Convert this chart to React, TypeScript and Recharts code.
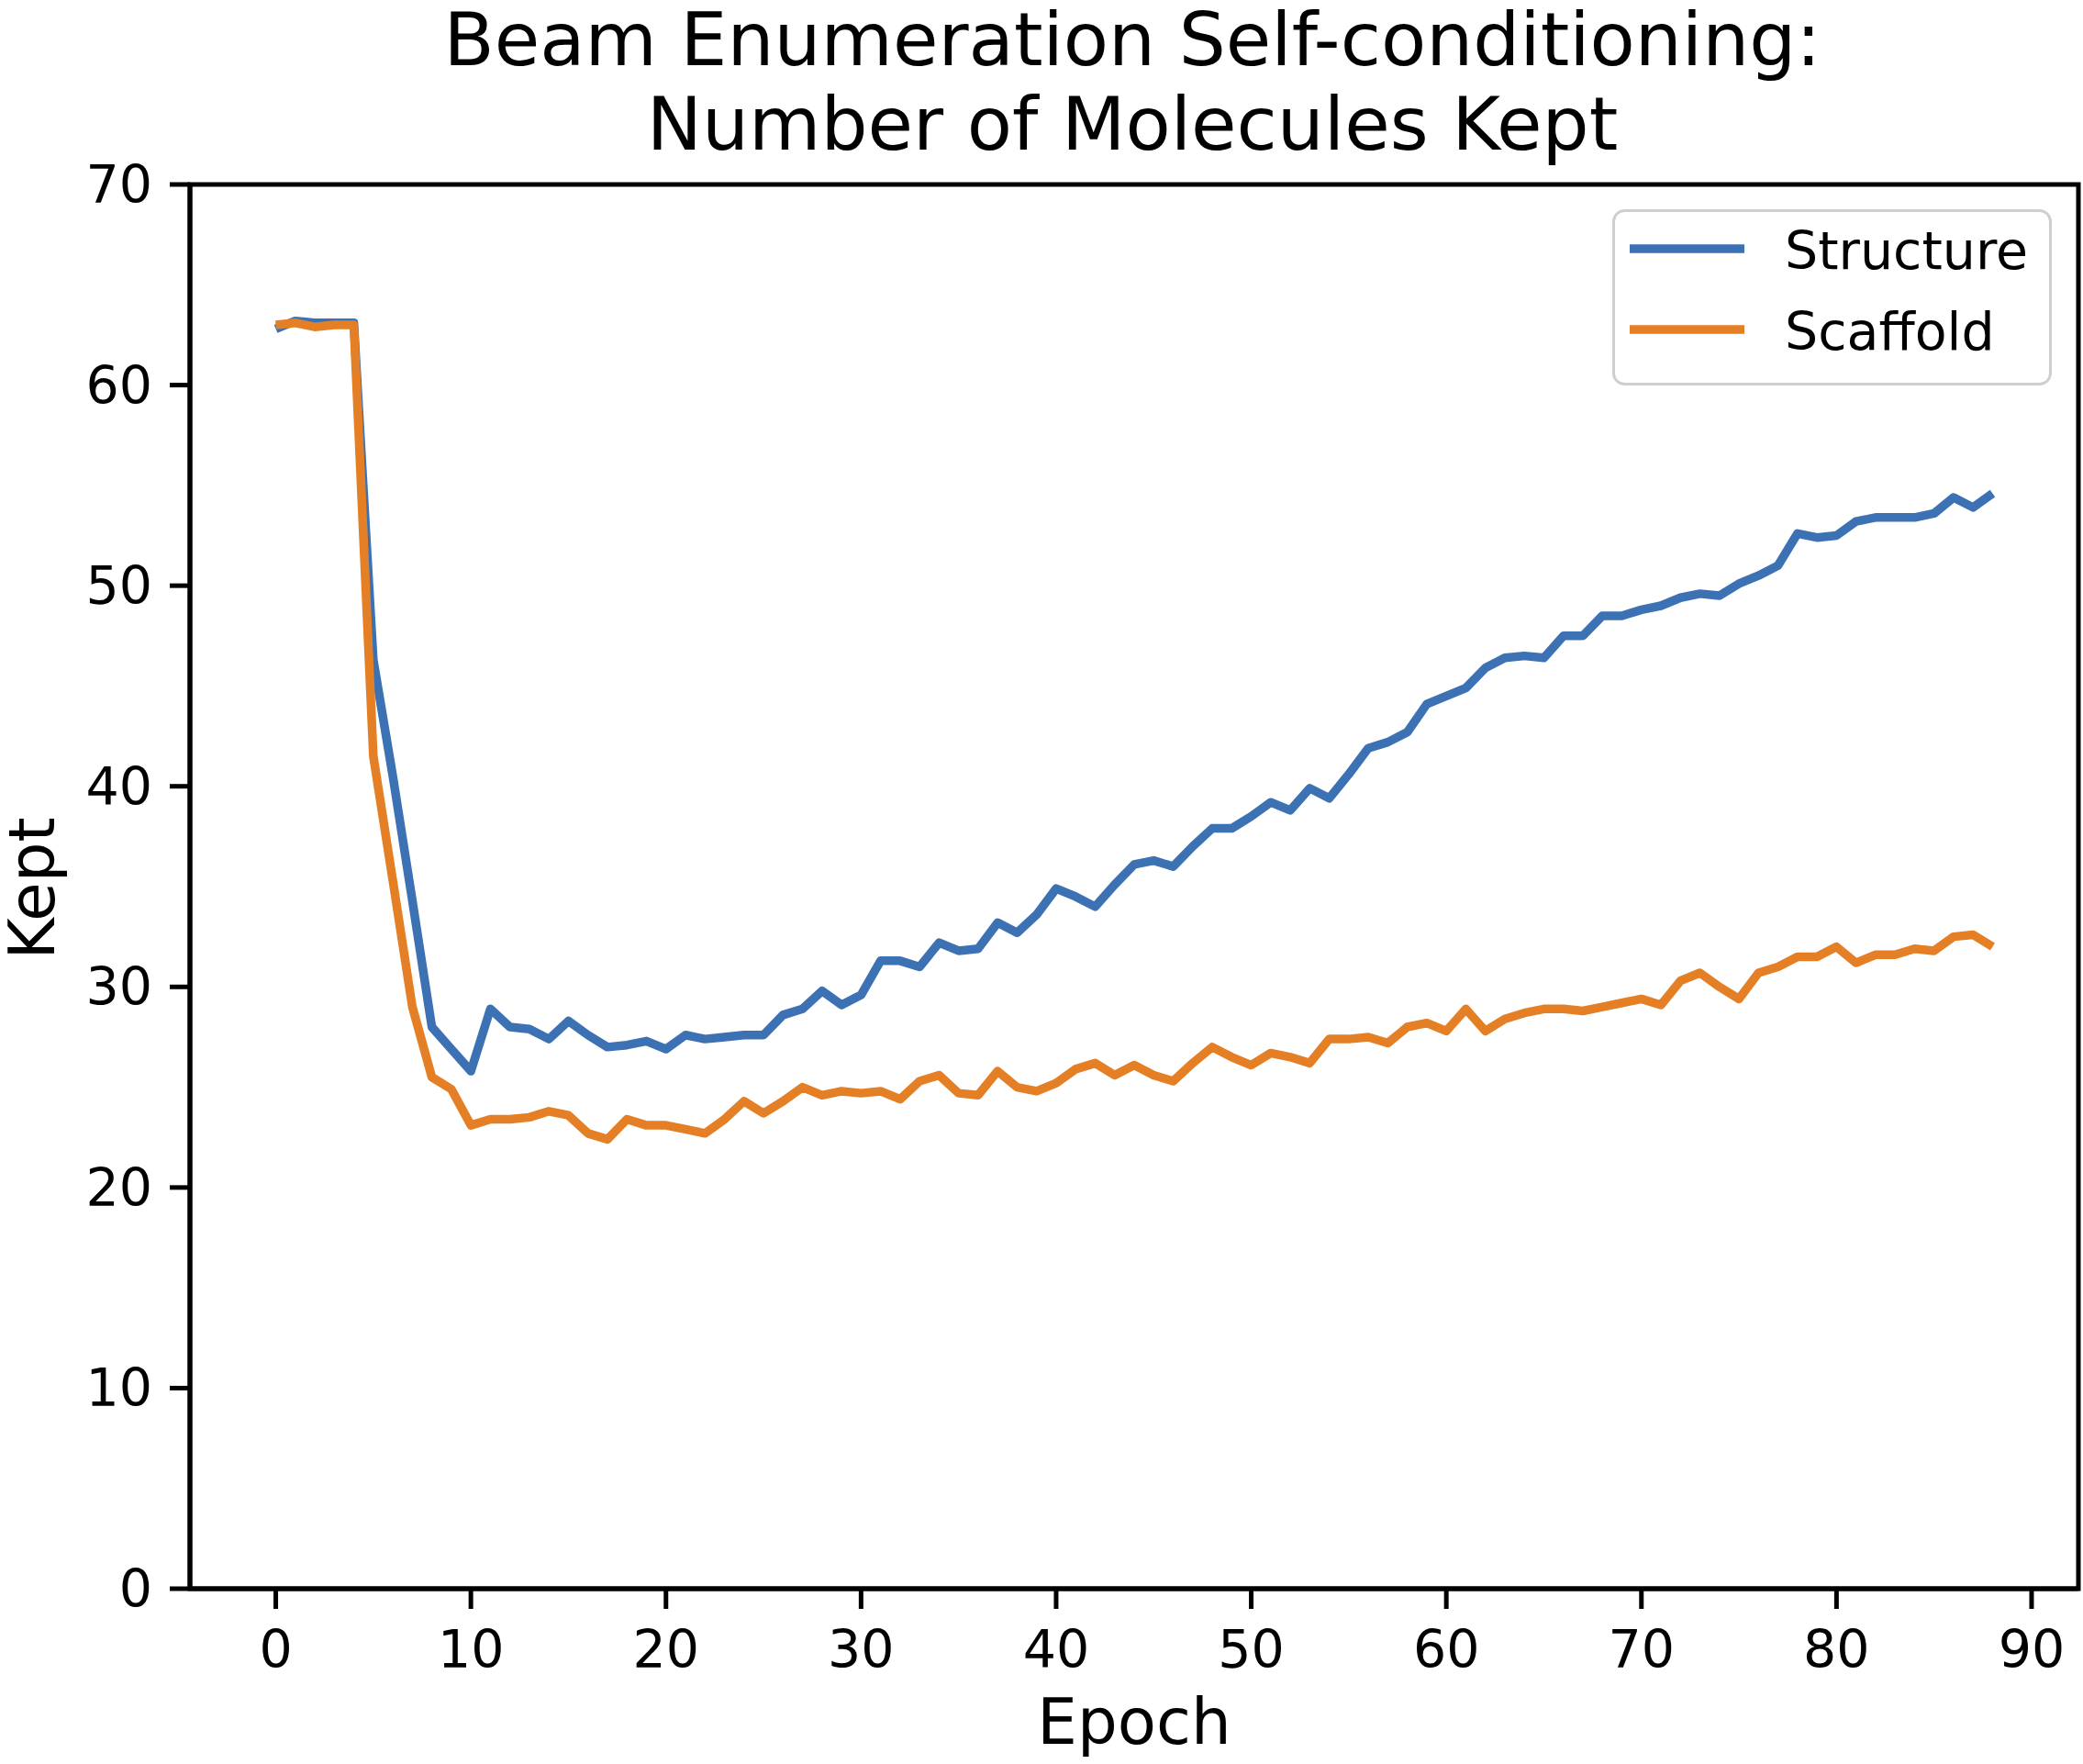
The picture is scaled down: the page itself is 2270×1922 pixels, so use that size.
import React from "react";
import {
  LineChart,
  Line,
  XAxis,
  YAxis,
  Legend,
  Label,
  ReferenceArea,
} from "recharts";

const W = 2270;
const H = 1922;
const FONT = '"DejaVu Sans", "Liberation Sans", sans-serif';

// values, one per epoch (0..88)
const structure = [
  62.8, 63.2, 63.1, 63.1, 63.1, 46.3, 40.5, 34.3, 28.0, 26.9,
  25.8, 28.9, 28.0, 27.9, 27.4, 28.3, 27.6, 27.0, 27.1, 27.3,
  26.9, 27.6, 27.4, 27.5, 27.6, 27.6, 28.6, 28.9, 29.8, 29.1,
  29.6, 31.3, 31.3, 31.0, 32.2, 31.8, 31.9, 33.2, 32.7, 33.6,
  34.9, 34.5, 34.0, 35.1, 36.1, 36.3, 36.0, 37.0, 37.9, 37.9,
  38.5, 39.2, 38.8, 39.9, 39.4, 40.6, 41.9, 42.2, 42.7, 44.1,
  44.5, 44.9, 45.9, 46.4, 46.5, 46.4, 47.5, 47.5, 48.5, 48.5,
  48.8, 49.0, 49.4, 49.6, 49.5, 50.1, 50.5, 51.0, 52.6, 52.4,
  52.5, 53.2, 53.4, 53.4, 53.4, 53.6, 54.4, 53.9, 54.6,
];

const scaffold = [
  63.0, 63.1, 62.9, 63.0, 63.0, 41.5, 35.3, 29.0, 25.5, 24.9,
  23.1, 23.4, 23.4, 23.5, 23.8, 23.6, 22.7, 22.4, 23.4, 23.1,
  23.1, 22.9, 22.7, 23.4, 24.3, 23.7, 24.3, 25.0, 24.6, 24.8,
  24.7, 24.8, 24.4, 25.3, 25.6, 24.7, 24.6, 25.8, 25.0, 24.8,
  25.2, 25.9, 26.2, 25.6, 26.1, 25.6, 25.3, 26.2, 27.0, 26.5,
  26.1, 26.7, 26.5, 26.2, 27.4, 27.4, 27.5, 27.2, 28.0, 28.2,
  27.8, 28.9, 27.8, 28.4, 28.7, 28.9, 28.9, 28.8, 29.0, 29.2,
  29.4, 29.1, 30.3, 30.7, 30.0, 29.4, 30.7, 31.0, 31.5, 31.5,
  32.0, 31.2, 31.6, 31.6, 31.9, 31.8, 32.5, 32.6, 32.0,
];

const xTicks = [0, 10, 20, 30, 40, 50, 60, 70, 80, 90];
const yTicks = [0, 10, 20, 30, 40, 50, 60, 70];

const BLUE = "#3c72b4";
const ORANGE = "#e47f26";

const rows = structure.map((s, i) => ({
  epoch: i,
  structure: s,
  scaffold: scaffold[i],
}));

function XTick(props: any) {
  const { x, y, payload } = props;
  return (
    <text x={x} y={y + 64} textAnchor="middle" fontSize={57} fontFamily={FONT} fill="#000">
      {payload.value}
    </text>
  );
}

function YTick(props: any) {
  const { x, y, payload } = props;
  return (
    <text x={x - 19} y={y + 20} textAnchor="end" fontSize={57} fontFamily={FONT} fill="#000">
      {payload.value}
    </text>
  );
}

function XLabel(props: any) {
  const vb = props.viewBox || { x: 207, y: 1731, width: 2058 };
  return (
    <text x={vb.x + vb.width / 2} y={vb.y + 169} textAnchor="middle" fontSize={69} fontFamily={FONT} fill="#000">
      Epoch
    </text>
  );
}

function YLabel(props: any) {
  const vb = props.viewBox || { y: 201, height: 1530 };
  const cy = vb.y + vb.height / 2 + 2;
  return (
    <text
      x={59}
      y={cy}
      transform={`rotate(-90, 59, ${cy})`}
      textAnchor="middle"
      fontSize={69}
      fontFamily={FONT}
      fill="#000"
    >
      Kept
    </text>
  );
}

function LegendBox() {
  const items = [
    { name: "Structure", color: BLUE, y: 43 },
    { name: "Scaffold", color: ORANGE, y: 131 },
  ];
  return (
    <svg width={480} height={194} style={{ display: "block" }}>
      <rect x={1.5} y={1.5} width={476} height={189} rx={12} ry={12} fill="#fff" fillOpacity={0.8} stroke="#cfcfcf" strokeWidth={3} />
      {items.map((it) => (
        <g key={it.name}>
          <line x1={19} x2={144} y1={it.y} y2={it.y} stroke={it.color} strokeWidth={9.5} />
          <text x={188} y={it.y + 22} fontSize={57} fontFamily={FONT} fill="#000">
            {it.name}
          </text>
        </g>
      ))}
    </svg>
  );
}

export default function App() {
  return (
    <div style={{ position: "absolute", left: 0, top: 0, width: W, height: H, background: "#fff" }}>
      <div style={{ position: "absolute", left: 0, top: 0 }}>
        <LineChart width={W} height={H} data={rows} margin={{ top: 201, right: 5, bottom: 0, left: 0 }}>
          <XAxis
            dataKey="epoch"
            type="number"
            domain={[-4.4, 92.4]}
            ticks={xTicks}
            interval={0}
            allowDataOverflow
            height={191}
            tickSize={22}
            tickMargin={0}
            tick={<XTick />}
            tickLine={{ stroke: "#000", strokeWidth: 5 }}
            axisLine={{ stroke: "#000", strokeWidth: 5 }}
          >
            <Label content={<XLabel />} />
          </XAxis>
          <YAxis
            type="number"
            domain={[0, 70]}
            ticks={yTicks}
            interval={0}
            allowDataOverflow
            width={207}
            tickSize={22}
            tickMargin={0}
            tick={<YTick />}
            tickLine={{ stroke: "#000", strokeWidth: 5 }}
            axisLine={{ stroke: "#000", strokeWidth: 5 }}
          >
            <Label content={<YLabel />} />
          </YAxis>
          <ReferenceArea
            x1={-4.4}
            x2={92.4}
            y1={0}
            y2={70}
            fill="none"
            fillOpacity={0}
            stroke="#000"
            strokeWidth={5}
            ifOverflow="visible"
          />
          <Line
            type="linear"
            dataKey="structure"
            name="Structure"
            stroke={BLUE}
            strokeWidth={9.5}
            strokeLinejoin="round"
            dot={false}
            activeDot={false}
            isAnimationActive={false}
          />
          <Line
            type="linear"
            dataKey="scaffold"
            name="Scaffold"
            stroke={ORANGE}
            strokeWidth={9.5}
            strokeLinejoin="round"
            dot={false}
            activeDot={false}
            isAnimationActive={false}
          />
          <Legend
            layout="vertical"
            align="center"
            verticalAlign="middle"
            content={<LegendBox />}
            wrapperStyle={{ position: "absolute", left: 1757, top: 228, width: 480, height: 194 }}
          />
        </LineChart>
      </div>
      <svg width={W} height={190} style={{ position: "absolute", left: 0, top: 0, pointerEvents: "none" }}>
        <text x={1234} y={71} textAnchor="middle" fontSize={80.5} fontFamily={FONT} fill="#000">
          Beam Enumeration Self-conditioning:
        </text>
        <text x={1234} y={163} textAnchor="middle" fontSize={80.5} fontFamily={FONT} fill="#000">
          Number of Molecules Kept
        </text>
      </svg>
    </div>
  );
}
